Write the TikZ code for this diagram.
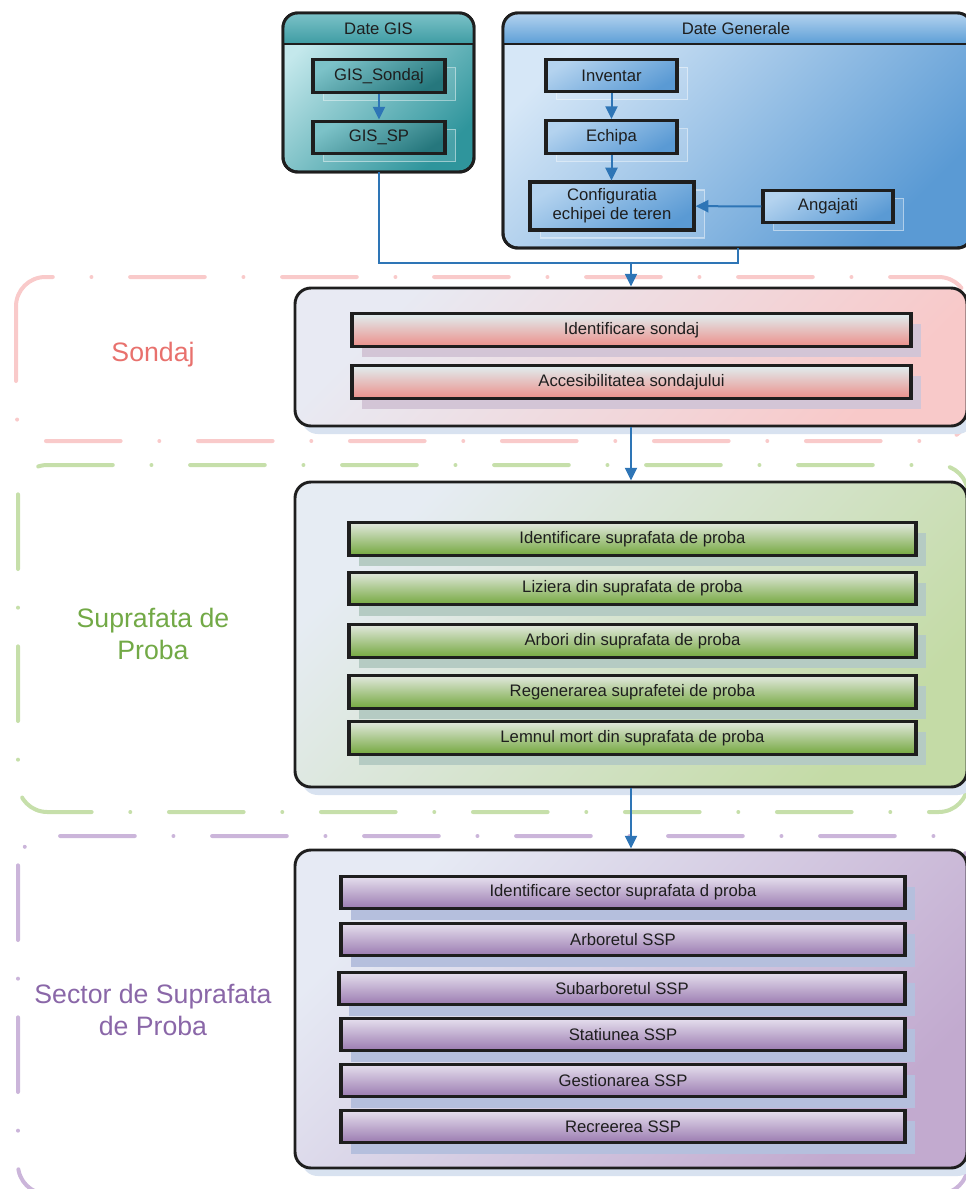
\documentclass[tikz,border=0pt]{standalone}
\usepackage{fontspec}
\setmainfont{Liberation Sans}
\usetikzlibrary{arrows.meta,shadows}

\definecolor{flowblue}{HTML}{2E75B6}
\definecolor{pinklane}{HTML}{F9CACA}
\definecolor{greenlane}{HTML}{C6DFAA}
\definecolor{purplelane}{HTML}{CBB5DA}
\definecolor{sondajtext}{HTML}{E8716D}
\definecolor{supraftext}{HTML}{72A946}
\definecolor{sectortext}{HTML}{8A67A8}
\definecolor{boxshadow}{HTML}{D8E2F0}
\definecolor{pinkshadow}{HTML}{D3C5D6}
\definecolor{greenshadow}{HTML}{B5CBC3}
\definecolor{purpleshadow}{HTML}{B5BFDD}
\definecolor{gisbodya}{HTML}{C4E8EC}
\definecolor{gisbodyb}{HTML}{2F959C}
\definecolor{gisheada}{HTML}{7CC2C8}
\definecolor{gisheadb}{HTML}{3E9CA3}
\definecolor{dgbodya}{HTML}{D6E7F7}
\definecolor{dgbodyb}{HTML}{5A9AD4}
\definecolor{dgheada}{HTML}{B4D3EF}
\definecolor{dgheadb}{HTML}{5C9ED6}
\definecolor{framecol}{HTML}{1E1E1E}
\definecolor{pinkitema}{HTML}{E0EEF0}
\definecolor{pinkitemb}{HTML}{EC8F8A}
\definecolor{greenitema}{HTML}{E2E8DE}
\definecolor{greenitemb}{HTML}{74A83E}
\definecolor{purpleitema}{HTML}{E6E0EE}
\definecolor{purpleitemb}{HTML}{9A7AB0}
\definecolor{pinkboxa}{HTML}{E8EAF3}
\definecolor{pinkboxb}{HTML}{F8C9C9}
\definecolor{greenboxa}{HTML}{E6ECF3}
\definecolor{greenboxb}{HTML}{C4DBA6}
\definecolor{purpleboxa}{HTML}{E6EAF4}
\definecolor{purpleboxb}{HTML}{C2AACF}

\tikzset{
  flow/.style={draw=flowblue, line width=1.5pt, -{Triangle[length=9.5pt,width=9pt]}},
  link/.style={draw=flowblue, line width=1.5pt},
  lane/.style={line width=3pt, line cap=round, rounded corners=22pt,
    dash pattern=on 56pt off 29pt on 0pt off 29pt},
  lanelabel/.style={font=\fontsize{20}{24}\selectfont, align=center},
  container/.style={draw=framecol, line width=2.2pt, rounded corners=11pt,
    outer sep=0pt, inner sep=0pt, shading angle=45},
  title/.style={font=\fontsize{12.5}{15}\selectfont, text=framecol},
  bigbox/.style={draw=framecol, line width=2.2pt, rounded corners=12pt,
    minimum width=504pt, inner sep=0pt, shading angle=45,
    general shadow={shadow xshift=5pt, shadow yshift=-6pt, fill=boxshadow}},
  item/.style={draw=framecol, line width=2.4pt, inner sep=0pt, minimum height=24.5pt,
    text=framecol, font=\fontsize{12.5}{14}\selectfont},
  laneitem/.style={item, general shadow={shadow xshift=7.5pt, shadow yshift=-8pt, fill=#1}},
  topitem/.style={item, general shadow={shadow xshift=8pt, shadow yshift=-6pt,
    draw=white, draw opacity=0.45, fill=white, fill opacity=0.12, line width=0.8pt}},
  tealitem/.style={topitem, top color=gisheada, bottom color=gisbodyb!80!black, shading angle=30},
  blueitem/.style={topitem, top color=dgheada, bottom color=dgbodyb, shading angle=30},
  pinkitem/.style={laneitem=pinkshadow, top color=pinkitema, bottom color=pinkitemb},
  greenitem/.style={laneitem=greenshadow, top color=greenitema, bottom color=greenitemb},
  purpleitem/.style={laneitem=purpleshadow, top color=purpleitema, bottom color=purpleitemb},
}

\begin{document}
\begin{tikzpicture}[x=0.75pt, y=-0.75pt]
\useasboundingbox (0,0) rectangle (966,1189);

\draw[lane, draw=pinklane] (16,277) rectangle (968,441);
\draw[lane, draw=greenlane] (18,465) rectangle (968,812);
\draw[lane, draw=purplelane] (18,836) rectangle (968,1194);

\node[lanelabel, text=sondajtext] (sondajlbl) at (153,355) {Sondaj};
\node[lanelabel, text=supraftext] (supraflbl) at (153,634) {Suprafata de\\Proba};
\node[lanelabel, text=sectortext] (sectorlbl) at (153,1010) {Sector de Suprafata\\de Proba};

\coordinate (headline) at (0,44);

\node[container, minimum width=143.25pt, minimum height=119.25pt,
    top color=gisbodya, bottom color=gisbodyb, shading angle=45] (gis) at (378.5,92.5) {};
\begin{scope}
\clip[rounded corners=11pt] (gis.south west) rectangle (gis.north east);
\shade[top color=gisheada, bottom color=gisheadb] (gis.north west) rectangle (gis.east |- headline);
\end{scope}
\draw[draw=framecol, line width=2.2pt, rounded corners=11pt] (gis.south west) rectangle (gis.north east);
\draw[draw=framecol, line width=2pt] (gis.west |- headline) -- (gis.east |- headline);
\node[title] (gistitle) at (378.5,28.5) {Date GIS};

\node[container, minimum width=351.75pt, minimum height=176.25pt,
    top color=dgbodya, bottom color=dgbodyb, shading angle=45] (dg) at (737.5,130.5) {};
\begin{scope}
\clip[rounded corners=11pt] (dg.south west) rectangle (dg.north east);
\shade[top color=dgheada, bottom color=dgheadb] (dg.north west) rectangle (dg.east |- headline);
\end{scope}
\draw[draw=framecol, line width=2.2pt, rounded corners=11pt] (dg.south west) rectangle (dg.north east);
\draw[draw=framecol, line width=2pt] (dg.west |- headline) -- (dg.east |- headline);
\node[title] (dgtitle) at (736,28.5) {Date Generale};

\node[tealitem, minimum width=99pt] (gissondaj) at (379,76) {GIS\_Sondaj};
\node[tealitem, minimum width=99pt] (gissp) at (379,137.5) {GIS\_SP};
\draw[flow] (gissondaj) -- (gissp);

\node[blueitem, minimum width=98.25pt] (inventar) at (611.5,75.5) {Inventar};
\node[blueitem, minimum width=98.25pt] (echipa) at (611.5,137) {Echipa};
\node[blueitem, minimum width=123pt, minimum height=36pt, align=center] (config) at (612,206) {Configuratia\\echipei de teren};
\node[blueitem, minimum width=97.5pt] (angajati) at (828,206.5) {Angajati};
\draw[flow] (inventar) -- (echipa);
\draw[flow] (echipa.south) -- (echipa.south |- config.north);
\draw[flow] (angajati) -- (config);

\coordinate (join) at (631,263);
\draw[link] (gis.south) |- (join) -| (dg.south);

\node[bigbox, minimum height=103.5pt, top color=pinkboxa, bottom color=pinkboxb,
    shading angle=45] (sondajbox) at (631,357) {};
\node[bigbox, minimum height=228.75pt, top color=greenboxa, bottom color=greenboxb,
    shading angle=45] (suprafbox) at (631,634.5) {};
\node[bigbox, minimum height=238.5pt, top color=purpleboxa, bottom color=purpleboxb,
    shading angle=45] (sectorbox) at (631,1009) {};

\draw[flow] (join) -- (sondajbox.north);
\draw[flow] (sondajbox.south) -- (suprafbox.north);
\draw[flow] (suprafbox.south) -- (sectorbox.north);

\node[pinkitem, minimum width=419.25pt] (idsondaj) at (631.5,330) {Identificare sondaj};
\node[pinkitem, minimum width=419.25pt] (accsondaj) at (631.5,382) {Accesibilitatea sondajului};

\node[greenitem, minimum width=425.25pt] (idsupraf) at (632.5,539) {Identificare suprafata de proba};
\node[greenitem, minimum width=425.25pt] (liziera) at (632.5,588.5) {Liziera din suprafata de proba};
\node[greenitem, minimum width=425.25pt] (arbori) at (632.5,641) {Arbori din suprafata de proba};
\node[greenitem, minimum width=425.25pt] (regener) at (632.5,692) {Regenerarea suprafetei de proba};
\node[greenitem, minimum width=425.25pt] (lemnul) at (632.5,738) {Lemnul mort din suprafata de proba};

\node[purpleitem, minimum width=423pt] (idsector) at (623,892.5) {Identificare sector suprafata d proba};
\node[purpleitem, minimum width=423pt] (arboret) at (623,939.5) {Arboretul SSP};
\node[purpleitem, minimum width=424.5pt] (subarb) at (622,988.5) {Subarboretul SSP};
\node[purpleitem, minimum width=423pt] (statiune) at (623,1034.5) {Statiunea SSP};
\node[purpleitem, minimum width=423pt] (gestion) at (623,1080.5) {Gestionarea SSP};
\node[purpleitem, minimum width=423pt] (recreer) at (623,1126.5) {Recreerea SSP};

\end{tikzpicture}
\end{document}
